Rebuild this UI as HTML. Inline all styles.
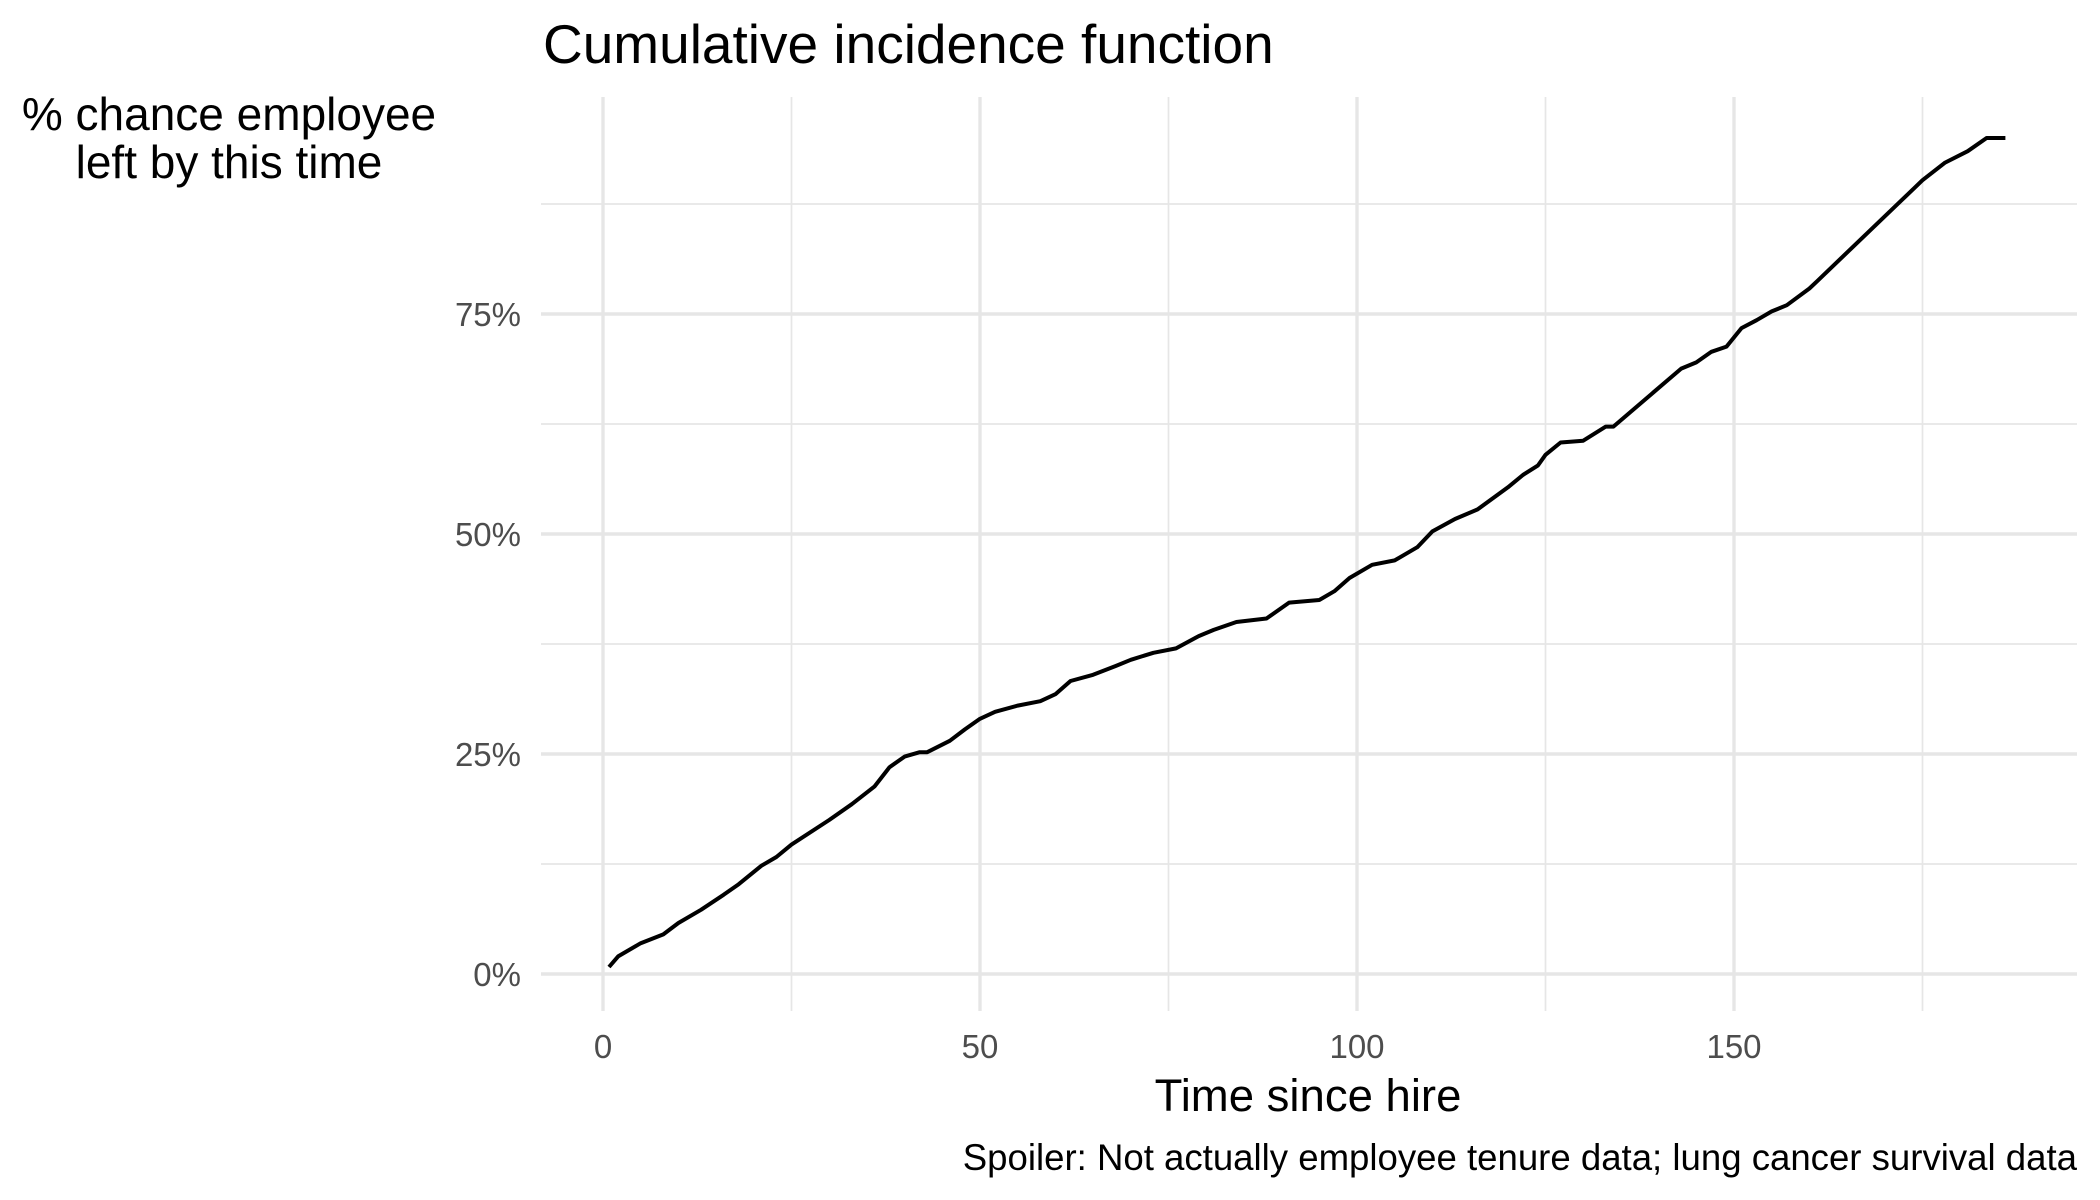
<!DOCTYPE html>
<html><head><meta charset="utf-8"><style>
html,body{margin:0;padding:0;background:#fff;}
svg{display:block;font-family:"Liberation Sans",Arial,sans-serif;}
</style></head><body>
<svg id="chart" width="2100" height="1200" viewBox="0 0 2100 1200">
<g id="grid"></g>
<g id="series"></g>
<g id="axes"></g>
<text x="543" y="63" font-size="55" fill="#000">Cumulative incidence function</text>
<text x="229" y="130" font-size="46" fill="#000" text-anchor="middle"><tspan x="229" y="130">% chance employee</tspan><tspan x="229" y="178">left by this time</tspan></text>
<text x="1308" y="1111" font-size="45.5" fill="#000" text-anchor="middle">Time since hire</text>
<text x="2077" y="1170" font-size="36.6" fill="#000" text-anchor="end">Spoiler: Not actually employee tenure data; lung cancer survival data</text>
</svg>
<script>
const times = [0.8,2,3,5,8,10,13,16,18,21,23,25,30,33,36,38,40,42,43,46,48,50,52,55,58,60,62,65,68,70,73,76,79,81,84,88,91,95,97,99,102,105,108,110,113,116,120,122,124,125,127,130,133,134,143,145,147,149,151,153,155,157,160,161,175,178,181,183.5,186];
const pct = [0.8,2,2.5,3.5,4.5,5.8,7.3,9,10.2,12.3,13.3,14.7,17.5,19.3,21.3,23.5,24.7,25.2,25.2,26.5,27.8,29,29.8,30.5,31,31.8,33.3,34,35,35.7,36.5,37,38.4,39.1,40,40.4,42.2,42.5,43.5,45,46.5,47,48.5,50.3,51.7,52.8,55.3,56.7,57.8,59,60.4,60.6,62.2,62.2,68.8,69.5,70.7,71.3,73.4,74.3,75.3,76,77.9,78.7,90.2,92.2,93.5,95,95];
const xTicks = [0,50,100,150];
const xMinor = [25,75,125,175];
const yTicks = [0,25,50,75];
const yTickLabels = ["0%","25%","50%","75%"];
const yMinor = [12.5,37.5,62.5,87.5];

const NS="http://www.w3.org/2000/svg";
const X0=603, XS=7.54, Y0=974, YS=8.8;
const PL=541, PR=2077, PT=97, PB=1011;
function sx(t){return X0+t*XS;}
function sy(p){return Y0-p*YS;}
function mk(tag,attrs,parent){const e=document.createElementNS(NS,tag);for(const k in attrs)e.setAttribute(k,attrs[k]);parent.appendChild(e);return e;}
const grid=document.getElementById('grid'), axes=document.getElementById('axes'), series=document.getElementById('series');

yMinor.forEach(v=>{const l=mk('line',{x1:PL,x2:PR,y1:sy(v),y2:sy(v),stroke:'#e6e6e6','stroke-width':1.7},grid);

});
xMinor.forEach(v=>{const l=mk('line',{x1:sx(v),x2:sx(v),y1:PT,y2:PB,stroke:'#e6e6e6','stroke-width':1.7},grid);

});
yTicks.forEach((v,i)=>{const l=mk('line',{x1:PL,x2:PR,y1:sy(v),y2:sy(v),stroke:'#e6e6e6','stroke-width':3.4},grid);


const t=mk('text',{x:521,y:sy(v)+12,'font-size':33,fill:'#4d4d4d','text-anchor':'end'},axes);
t.textContent=yTickLabels[i];

});
xTicks.forEach(v=>{const l=mk('line',{x1:sx(v),x2:sx(v),y1:PT,y2:PB,stroke:'#e6e6e6','stroke-width':3.4},grid);


const t=mk('text',{x:sx(v),y:1058,'font-size':33,fill:'#4d4d4d','text-anchor':'middle'},axes);
t.textContent=String(v);

});

const d=times.map((t,i)=>(i?'L':'M')+sx(t).toFixed(1)+','+sy(pct[i]).toFixed(1)).join(' ');
const path=mk('path',{d:d,fill:'none',stroke:'#000','stroke-width':4,'stroke-linejoin':'round'},series);


</script>
</body></html>
